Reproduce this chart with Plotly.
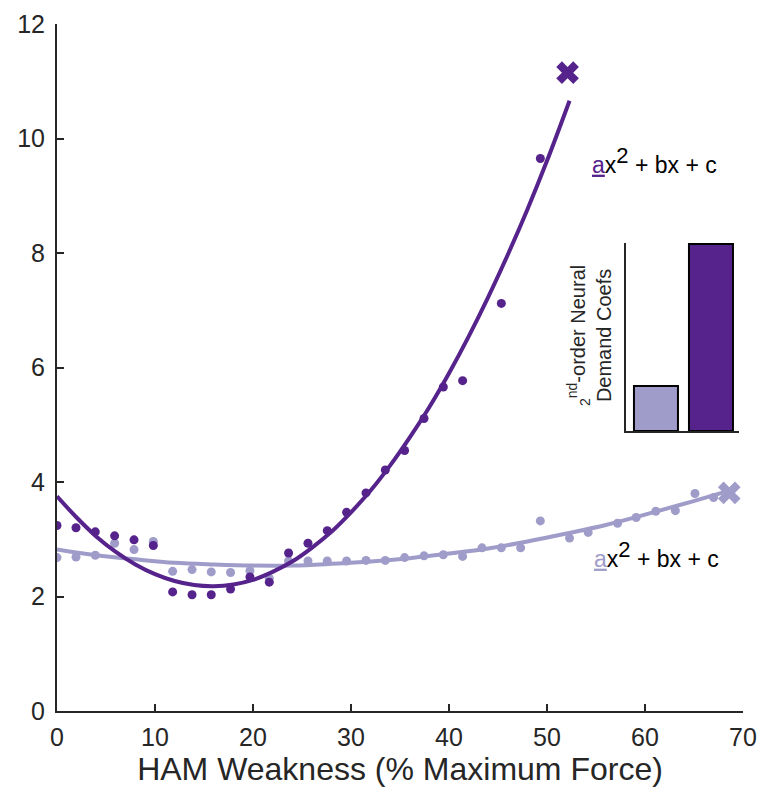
import plotly.graph_objects as go

# ---- data ----
dark_x = [0, 1.94, 3.91, 5.88, 7.86, 9.83, 11.80, 13.78, 15.74, 17.71, 19.69, 21.66,
          23.63, 25.61, 27.58, 29.55, 31.53, 33.50, 35.47, 37.45, 39.42, 41.39, 45.34, 49.32]
dark_y = [3.24, 3.20, 3.13, 3.06, 2.99, 2.89, 2.08, 2.03, 2.03, 2.13, 2.34, 2.25,
          2.76, 2.93, 3.15, 3.47, 3.81, 4.21, 4.55, 5.11, 5.66, 5.77, 7.12, 9.65]

light_x = [0, 1.94, 3.91, 5.88, 7.86, 9.83, 11.80, 13.78, 15.74, 17.71, 19.69, 21.66,
           23.63, 25.61, 27.58, 29.55, 31.53, 33.50, 35.47, 37.45, 39.42, 41.39, 43.37,
           45.34, 47.31, 49.32, 52.3, 54.2, 57.2, 59.1, 61.1, 63.1, 65.1, 67.0]
light_y = [2.68, 2.69, 2.72, 2.93, 2.82, 2.96, 2.44, 2.47, 2.43, 2.42, 2.45, 2.32,
           2.62, 2.62, 2.62, 2.62, 2.63, 2.63, 2.68, 2.71, 2.73, 2.70, 2.85,
           2.85, 2.85, 3.32, 3.02, 3.12, 3.28, 3.38, 3.49, 3.50, 3.80, 3.73]

# fitted quadratic curves
dark_fit_x = [0, 2, 4, 6, 8, 10, 12, 14, 16, 18, 20, 22, 24, 26, 28, 30, 32, 34, 36,
              38, 40, 42, 44, 46, 48, 50, 52.3]
dark_fit_y = [3.75, 3.38, 3.05, 2.78, 2.56, 2.39, 2.27, 2.20, 2.18, 2.21, 2.29, 2.43,
              2.61, 2.85, 3.13, 3.47, 3.85, 4.29, 4.78, 5.31, 5.90, 6.54, 7.23, 7.97,
              8.76, 9.61, 10.66]
light_fit_x = [0, 4, 8, 12, 16, 20, 24, 28, 32, 36, 40, 44, 48, 52, 56, 60, 64, 68]
light_fit_y = [2.82, 2.72, 2.65, 2.59, 2.56, 2.54, 2.54, 2.57, 2.61, 2.67, 2.75, 2.84,
               2.96, 3.10, 3.25, 3.43, 3.62, 3.82]

dark_end = (52.1, 11.15)
light_end = (68.6, 3.81)

coef_labels = ["light", "dark"]
coef_pos = [1, 2]
coef_vals = [0.24, 0.995]

x_ticks = [0, 10, 20, 30, 40, 50, 60, 70]
y_ticks = [0, 2, 4, 6, 8, 10, 12]

DARK = "#55238b"
LIGHT = "#a09cc9"
AX = "#262626"
FONT = "Liberation Sans, Arial, Helvetica, sans-serif"

fig = go.Figure()

fig.add_trace(go.Scatter(x=light_x, y=light_y, mode="markers",
                         marker=dict(color=LIGHT, size=9), showlegend=False))
fig.add_trace(go.Scatter(x=light_fit_x, y=light_fit_y, mode="lines", line_shape="spline",
                         line=dict(color=LIGHT, width=4), showlegend=False))
fig.add_trace(go.Scatter(x=dark_x, y=dark_y, mode="markers",
                         marker=dict(color=DARK, size=9), showlegend=False))
fig.add_trace(go.Scatter(x=dark_fit_x, y=dark_fit_y, mode="lines", line_shape="spline",
                         line=dict(color=DARK, width=4), showlegend=False))
fig.add_trace(go.Scatter(x=[dark_end[0]], y=[dark_end[1]], mode="markers",
                         marker=dict(symbol="x", color=DARK, size=20), showlegend=False))
fig.add_trace(go.Scatter(x=[light_end[0]], y=[light_end[1]], mode="markers",
                         marker=dict(symbol="x", color=LIGHT, size=20), showlegend=False))

fig.add_trace(go.Bar(x=coef_pos, y=coef_vals, width=0.8,
                     marker=dict(color=[LIGHT, DARK], line=dict(color="black", width=2)),
                     xaxis="x2", yaxis="y2", showlegend=False))

# page has an 8px body margin: figure drawn at (8, 8)
fig.update_layout(
    width=758, height=783,
    margin=dict(l=49, r=23, t=16, b=80, autoexpand=False),
    paper_bgcolor="white", plot_bgcolor="white",
    font=dict(family=FONT, color=AX, size=25),
    xaxis=dict(range=[0, 70], tickvals=x_ticks, ticks="inside", ticklen=7, tickwidth=1.5,
               tickcolor=AX, showline=True, linecolor=AX, linewidth=2, showgrid=False,
               zeroline=False, tickfont=dict(size=25), ticklabelstandoff=3, automargin=False,
               title=dict(text="HAM Weakness (% Maximum Force)", font=dict(size=32), standoff=4)),
    yaxis=dict(range=[0, 12], tickvals=y_ticks, ticks="inside", ticklen=7, tickwidth=1.5,
               tickcolor=AX, showline=True, linecolor=AX, linewidth=2, showgrid=False,
               zeroline=False, tickfont=dict(size=25), ticklabelstandoff=5, automargin=False),
    xaxis2=dict(domain=[0.8294, 0.9942], anchor="y2", range=[0.46, 2.51],
                showline=True, linecolor=AX, linewidth=2, showticklabels=False,
                ticks="", showgrid=False, zeroline=False),
    yaxis2=dict(domain=[0.4076, 0.6812], anchor="x2", range=[0, 1.0],
                showline=True, linecolor=AX, linewidth=2, showticklabels=False,
                ticks="", showgrid=False, zeroline=False),
    bargap=0,
)

def formula(color):
    return (f"<span style='color:{color}'><u>a</u></span>x"
            f"<sup><span style='font-size:22px'>2</span></sup> + bx + c")

fig.add_annotation(xref="paper", yref="paper", x=(590 - 57) / 686, y=(711 - 160) / 687,
                   xanchor="left", yanchor="middle", showarrow=False,
                   text=formula(DARK), font=dict(size=23, color="black", family=FONT))
fig.add_annotation(xref="paper", yref="paper", x=(592 - 57) / 686, y=(711 - 554) / 687,
                   xanchor="left", yanchor="middle", showarrow=False,
                   text=formula(LIGHT), font=dict(size=23, color="black", family=FONT))
fig.add_annotation(xref="paper", yref="paper", x=(590 - 57) / 686, y=(711 - 336) / 687,
                   xanchor="center", yanchor="middle", showarrow=False, textangle=-90,
                   text="<sub>2</sub><sup>nd</sup>-order Neural<br>Demand Coefs",
                   font=dict(size=20, color=AX, family=FONT))

fig.write_html("out.html")
